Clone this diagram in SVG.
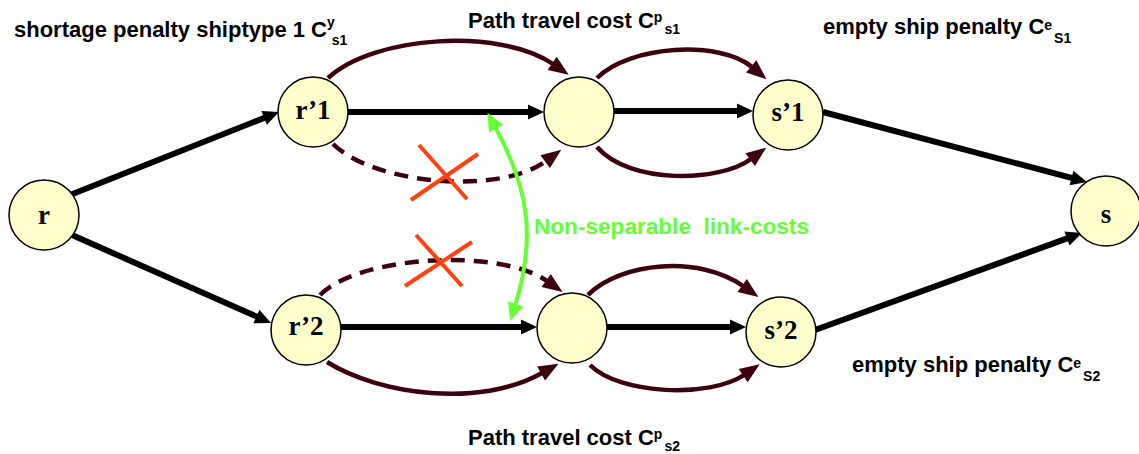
<svg xmlns="http://www.w3.org/2000/svg" width="1139" height="454" viewBox="0 0 1139 454">
<style>
.node{fill:#ffffcc;stroke:#000;stroke-width:1.5}
.nl{font-family:"Liberation Serif","Times New Roman",serif;font-weight:bold;font-size:27px;fill:#000;text-anchor:middle}
.lbl{font-family:"Liberation Sans",Arial,sans-serif;font-weight:bold;font-size:22px;fill:#000}
.sm{font-size:14px}
.blk{stroke:#000;stroke-width:6;fill:none;marker-end:url(#ab)}
.mar{stroke:#3d0010;stroke-width:4.5;fill:none;marker-end:url(#am)}
.dash{stroke-dasharray:14 9}
.x{stroke:#ff4010;stroke-width:4;fill:none}
</style>
<defs>
<marker id="ab" markerUnits="userSpaceOnUse" markerWidth="16" markerHeight="15" refX="1" refY="7.5" orient="auto" overflow="visible"><path d="M0,0 L16,7.5 L0,15 z" fill="#000"/></marker>
<marker id="am" markerUnits="userSpaceOnUse" markerWidth="20" markerHeight="16" refX="1" refY="8" orient="auto" overflow="visible"><path d="M0,0 L20,8 L0,16 z" fill="#3d0010"/></marker>
<marker id="ag" markerUnits="userSpaceOnUse" markerWidth="18" markerHeight="16" refX="1" refY="8" orient="auto-start-reverse" overflow="visible"><path d="M0,0 L18,8 L0,16 z" fill="#66ff33"/></marker>
</defs>
<g id="connectors">
<line class="blk" x1="70" y1="195" x2="265.1" y2="117.5"/>
<line class="blk" x1="72" y1="235" x2="257.3" y2="316.9"/>
<line class="blk" x1="348" y1="112" x2="529" y2="112"/>
<line class="blk" x1="614" y1="111" x2="738" y2="111"/>
<line class="blk" x1="823" y1="112" x2="1072.5" y2="178.2"/>
<line class="blk" x1="815" y1="330" x2="1067.9" y2="238.1"/>
<line class="blk" x1="341" y1="327" x2="522" y2="327"/>
<line class="blk" x1="607" y1="327" x2="731" y2="327"/>
<path class="mar" d="M328,78 C375,35 500,28 553,64"/>
<path class="mar" d="M597,78 C630,45 720,40 752,67"/>
<path class="mar dash" d="M333,144 C375,185 500,195 546,161"/>
<path class="mar" d="M597,147 C630,185 720,182 751,159"/>
<path class="mar dash" d="M320,295 C360,255 500,248 547,281"/>
<path class="mar" d="M327,362 C380,395 480,408 542,373"/>
<path class="mar" d="M588,295 C620,262 700,255 743,286"/>
<path class="mar" d="M590,365 C620,395 710,398 744,375"/>
<path d="M495.6,127.8 C528.9,189.3 536,237.9 515.3,304.8" stroke="#66ff33" stroke-width="4" fill="none" marker-start="url(#ag)" marker-end="url(#ag)"/>
</g>
<g id="crosses">
<line class="x" x1="419" y1="145" x2="467" y2="199"/>
<line class="x" x1="411" y1="200" x2="478" y2="154"/>
<line class="x" x1="416" y1="235" x2="462" y2="286"/>
<line class="x" x1="405" y1="286" x2="472" y2="242"/>
</g>
<g id="node-r"><circle class="node" cx="44" cy="215" r="35"/><text class="nl" x="44" y="224">r</text></g>
<g id="node-r1"><circle class="node" cx="313" cy="112" r="35"/><text class="nl" x="313" y="119">r’1</text></g>
<g id="node-m1"><circle class="node" cx="579" cy="112" r="35"/></g>
<g id="node-s1"><circle class="node" cx="788" cy="115" r="35"/><text class="nl" x="788" y="121">s’1</text></g>
<g id="node-s"><circle class="node" cx="1106" cy="211" r="35"/><text class="nl" x="1106" y="223">s</text></g>
<g id="node-r2"><circle class="node" cx="306" cy="330" r="35"/><text class="nl" x="306" y="335">r’2</text></g>
<g id="node-m2"><circle class="node" cx="572" cy="328" r="35"/></g>
<g id="node-s2"><circle class="node" cx="781" cy="332" r="35"/><text class="nl" x="781" y="339">s’2</text></g>
<g id="labels">
<text class="lbl" x="14" y="37">shortage penalty shiptype 1 C<tspan class="sm" dy="-10">y</tspan><tspan class="sm" dx="-3" dy="18">s1</tspan></text>
<text class="lbl" x="468" y="28">Path travel cost C<tspan class="sm" dy="-6">p</tspan><tspan class="sm" dx="2" dy="12">s1</tspan></text>
<text class="lbl" x="823" y="34">empty ship penalty C<tspan class="sm" dy="-4">e</tspan><tspan class="sm" dx="2" dy="13">S1</tspan></text>
<text class="lbl" x="852" y="372">empty ship penalty C<tspan class="sm" dy="-4">e</tspan><tspan class="sm" dx="2" dy="13">S2</tspan></text>
<text class="lbl" x="468" y="445">Path travel cost C<tspan class="sm" dy="-6">p</tspan><tspan class="sm" dx="2" dy="12">s2</tspan></text>
<text class="lbl" x="534" y="234" xml:space="preserve" style="fill:#66ff33;font-size:22.6px;white-space:pre">Non-separable  link-costs</text>
</g>
</svg>
